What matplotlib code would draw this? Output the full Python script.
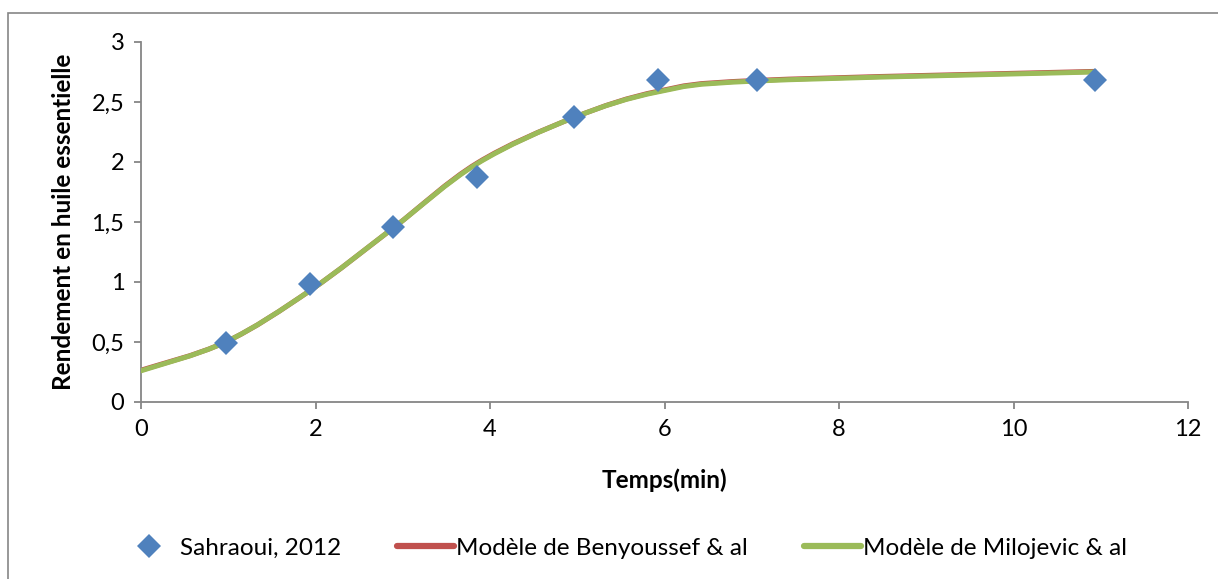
import matplotlib.pyplot as plt
from matplotlib.path import Path
from matplotlib.patches import PathPatch, Rectangle
from matplotlib.lines import Line2D

plt.rcParams["font.family"] = ["Lato", "DejaVu Sans"]

# mesures (Sahraoui, 2012)
temps = [0.97, 1.94, 2.89, 3.85, 4.96, 5.93, 7.06, 10.93]
rendement = [0.49, 0.98, 1.46, 1.875, 2.375, 2.68, 2.68, 2.68]

temps_mod = [0, 0.97, 1.94, 2.89, 3.85, 4.96, 5.93, 7.06, 10.93]
benyoussef = [0.265, 0.50, 0.93, 1.45, 1.99, 2.37, 2.59, 2.68, 2.755]
milojevic = [0.26, 0.50, 0.93, 1.45, 1.985, 2.37, 2.585, 2.675, 2.75]

y_ticks = [0, 0.5, 1, 1.5, 2, 2.5, 3]
y_labels = ["0", "0,5", "1", "1,5", "2", "2,5", "3"]
x_ticks = [0, 2, 4, 6, 8, 10, 12]

blue = "#4F81BD"
red = "#C0504D"
green = "#9BBB59"
grey = "#868686"


def smooth_path(xs, ys):
    # courbe lissee facon Excel (bezier a partir des points voisins)
    pts = list(zip(xs, ys))
    verts = [pts[0]]
    codes = [Path.MOVETO]
    n = len(pts)
    for i in range(n - 1):
        p0 = pts[i - 1] if i > 0 else pts[i]
        p1 = pts[i]
        p2 = pts[i + 1]
        p3 = pts[i + 2] if i + 2 < n else pts[i + 1]
        c1 = (p1[0] + (p2[0] - p0[0]) / 6, p1[1] + (p2[1] - p0[1]) / 6)
        c2 = (p2[0] - (p3[0] - p1[0]) / 6, p2[1] - (p3[1] - p1[1]) / 6)
        verts += [c1, c2, p2]
        codes += [Path.CURVE4] * 3
    return Path(verts, codes)


fig = plt.figure(figsize=(12.18, 5.79), dpi=100)
fig.patches.append(Rectangle((8 / 1218, -0.1), 1.2, 1 - 13 / 579 + 0.1,
                             transform=fig.transFigure, fill=False,
                             edgecolor=grey, linewidth=1.2))

ax = fig.add_axes([141 / 1218, 1 - 402 / 579, 1047 / 1218, 360 / 579])

ax.add_patch(PathPatch(smooth_path(temps_mod, benyoussef), fill=False,
                       edgecolor=red, linewidth=3.6, capstyle="round", zorder=2))
ax.add_patch(PathPatch(smooth_path(temps_mod, milojevic), fill=False,
                       edgecolor=green, linewidth=3.6, capstyle="round", zorder=3))
ax.plot(temps, rendement, linestyle="none", marker="D", markersize=12.5,
        color=blue, markeredgewidth=0, zorder=4)

ax.set_xlim(0, 12)
ax.set_ylim(0, 3)
ax.set_xticks(x_ticks)
ax.set_yticks(y_ticks)
ax.set_yticklabels(y_labels)
for s in ["top", "right"]:
    ax.spines[s].set_visible(False)
for s in ["left", "bottom"]:
    ax.spines[s].set_color(grey)
    ax.spines[s].set_linewidth(1.3)
ax.tick_params(direction="out", length=5, width=1.3, color=grey,
               labelsize=17, pad=7)

ax.set_xlabel("Temps(min)", fontsize=17.5, fontweight="bold", labelpad=21)
ax.set_ylabel("Rendement en huile essentielle", fontsize=17.5,
              fontweight="bold", labelpad=12)

handles = [
    Line2D([], [], linestyle="none", marker="D", markersize=12, color=blue,
           markeredgewidth=0),
    Line2D([], [], color=red, linewidth=4.5, solid_capstyle="round"),
    Line2D([], [], color=green, linewidth=4.5, solid_capstyle="round"),
]
labels = ["Sahraoui, 2012", "Modèle de Benyoussef & al", "Modèle de Milojevic & al"]
fig.legend(handles, labels, loc="center left",
           bbox_to_anchor=(120 / 1218, 1 - 548 / 579),
           ncol=3, frameon=False, fontsize=17.5, handlelength=2.35,
           handletextpad=0.1, columnspacing=2.3, borderpad=0, borderaxespad=0)

fig.savefig("out.png", dpi=100)
